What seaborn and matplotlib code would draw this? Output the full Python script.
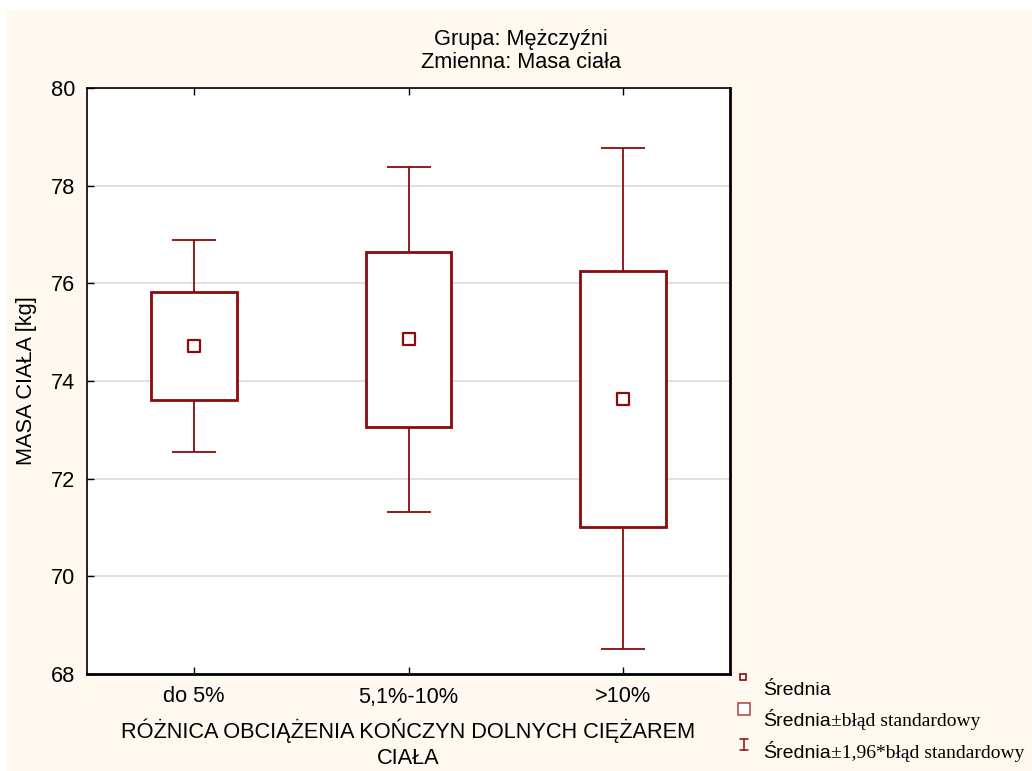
import numpy as np
import pandas as pd
import matplotlib
matplotlib.use("Agg")
import matplotlib.pyplot as plt
import seaborn as sns
from matplotlib.patches import Rectangle
from matplotlib.lines import Line2D

# ---- data ----
categories = ["do 5%", "5,1%-10%", ">10%"]
means = [74.72, 74.85, 73.64]
std_err = [1.11, 1.80, 2.62]
yticks = [68, 70, 72, 74, 76, 78, 80]
title_lines = ["Grupa: Mężczyźni", "Zmienna: Masa ciała"]
xlabel = "RÓŻNICA OBCIĄŻENIA KOŃCZYN DOLNYCH CIĘŻAREM\nCIAŁA"
ylabel = "MASA CIAŁA [kg]"
legend_main = ["Średnia", "Średnia", "Średnia"]
legend_suffix = ["", "±błąd standardowy", "±1,96*błąd standardowy"]

sns.set_style("white")
plt.rcParams["font.family"] = ["Liberation Sans", "DejaVu Sans"]
plt.rcParams["text.color"] = "black"
plt.rcParams["axes.labelcolor"] = "black"
plt.rcParams["xtick.color"] = "black"
plt.rcParams["ytick.color"] = "black"

RED = "#8B0A0A"
CREAM = "#FFF9EF"
FS = 15.7
W, H = 1032, 771
fig = plt.figure(figsize=(W / 100, H / 100), dpi=100, facecolor="white")
fig.patches.append(Rectangle((7 / W, 0), 1 - 7 / W, 1 - 10 / H, transform=fig.transFigure,
                             facecolor=CREAM, edgecolor="none", zorder=-10))

ax = fig.add_axes([87 / W, 97 / H, (730 - 87) / W, (674 - 88) / H])
ax.set_facecolor("white")

df = pd.DataFrame({"cat": categories, "mean": means, "se": std_err})
df["lo"] = df["mean"] - df["se"]
x = np.arange(len(categories))

# whiskers (mean ± 1.96*SE)
ax.errorbar(x, df["mean"], yerr=1.96 * df["se"], fmt="none", ecolor=RED,
            elinewidth=1.3, capsize=15.5, capthick=1.3, zorder=2)
# boxes (mean ± SE)
ax.bar(x, 2 * df["se"], bottom=df["lo"], width=0.4, facecolor="white",
       edgecolor=RED, linewidth=2.0, zorder=3)
# means
sns.scatterplot(data=df, x="cat", y="mean", marker="s", s=70, facecolor="white",
                edgecolor=RED, linewidth=1.6, ax=ax, zorder=4, legend=False)

ax.set_xlim(-0.5, 2.5)
ax.set_ylim(68, 80)
ax.set_yticks(yticks)
ax.set_xticks(x)
ax.set_xticklabels(categories)
ax.yaxis.grid(True, color="#DADADA", linewidth=1.2, zorder=0)
ax.set_axisbelow(True)
ax.tick_params(axis="both", direction="in", length=5, width=1, colors="black",
               labelsize=FS, top=True, left=True, bottom=True, right=False)
ax.tick_params(axis="x", pad=9)
ax.tick_params(axis="y", pad=8.5)
for s in ax.spines.values():
    s.set_visible(True)
    s.set_color("black")
    s.set_linewidth(1.2)
ax.spines["right"].set_linewidth(2.0)
ax.spines["bottom"].set_linewidth(2.0)
ax.set_xlabel(xlabel, fontsize=FS, labelpad=8, linespacing=1.3)
ax.set_ylabel(ylabel, fontsize=FS, labelpad=10)


def fx(px):
    return px / W


def fy(py):
    return 1 - py / H


# title centred on the figure
for line, yb in zip(title_lines, [45, 68]):
    fig.text(fx(521), fy(yb), line, fontsize=FS, ha="center", va="baseline")

# ---- legend drawn manually (mixed fonts) ----
fig.add_artist(Line2D([fx(743)], [fy(677)], marker="s", markersize=4.5, markerfacecolor="white",
                      markeredgecolor=RED, markeredgewidth=1.2, linestyle="none",
                      transform=fig.transFigure))
fig.add_artist(Rectangle((fx(738), fy(715)), 12 / W, 12 / H, facecolor="white",
                         edgecolor="#B05050", linewidth=1.2, transform=fig.transFigure))
fig.add_artist(Line2D([fx(744), fx(744)], [fy(739), fy(750)], color=RED, lw=1.1,
                      transform=fig.transFigure))
fig.add_artist(Line2D([fx(740), fx(748)], [fy(739), fy(739)], color=RED, lw=1.1,
                      transform=fig.transFigure))
fig.add_artist(Line2D([fx(740), fx(748)], [fy(750), fy(750)], color=RED, lw=1.1,
                      transform=fig.transFigure))

renderer = fig.canvas.get_renderer()
baselines = [695, 726, 758]
for main, suf, yb in zip(legend_main, legend_suffix, baselines):
    t = fig.text(fx(763), fy(yb), main, fontsize=14, va="baseline", ha="left",
                 family=["Liberation Sans", "DejaVu Sans"])
    if suf:
        bb = t.get_window_extent(renderer=renderer)
        fig.text(bb.x1 / W, fy(yb), suf, fontsize=14, va="baseline", ha="left",
                 family=["Liberation Serif", "DejaVu Serif"])

fig.savefig("out.png", dpi=100, facecolor=fig.get_facecolor())
